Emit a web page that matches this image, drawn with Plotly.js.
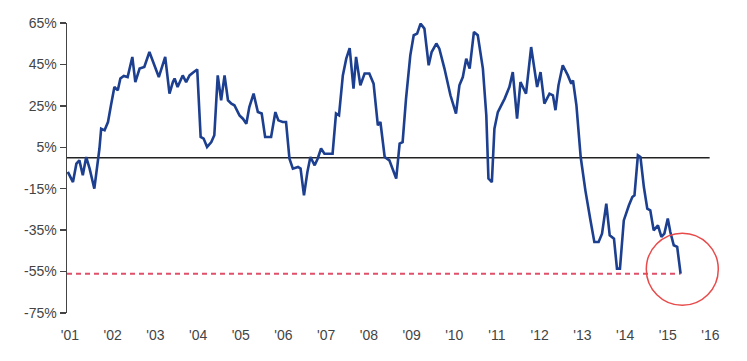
<!DOCTYPE html>
<html>
<head>
<meta charset="utf-8">
<script src="https://cdn.plot.ly/plotly-3.0.1.min.js"></script>
<style>html,body{margin:0;padding:0;background:#fff;}#chart{width:747px;height:361px;}</style>
</head>
<body>
<div id="chart"></div>
<script>
// Time (decimal year) and value (%)
const years = [2000.95,2001.07,2001.15,2001.22,2001.30,2001.38,2001.46,2001.57,2001.69,2001.73,2001.81,2001.89,2001.96,
2002.04,2002.12,2002.18,2002.26,2002.35,2002.46,2002.53,2002.63,2002.74,2002.86,2002.98,
2003.08,2003.23,2003.33,2003.41,2003.45,2003.52,2003.64,2003.72,2003.80,2003.90,2003.98,
2004.06,2004.13,2004.21,2004.31,2004.38,2004.46,2004.54,2004.62,2004.70,2004.78,2004.85,2004.97,
2005.05,2005.13,2005.20,2005.30,2005.40,2005.49,2005.57,2005.71,2005.81,2005.88,2005.98,
2006.06,2006.14,2006.22,2006.34,2006.40,2006.48,2006.56,2006.63,2006.73,2006.80,2006.88,2006.96,
2007.15,2007.23,2007.30,2007.39,2007.47,2007.55,2007.64,2007.70,2007.80,2007.90,
2008.01,2008.11,2008.21,2008.27,2008.37,2008.48,2008.60,2008.64,2008.72,2008.79,2008.87,2008.97,
2009.05,2009.13,2009.21,2009.30,2009.40,2009.47,2009.58,2009.65,2009.77,2009.91,
2010.04,2010.12,2010.20,2010.28,2010.36,2010.46,2010.55,2010.67,2010.75,2010.80,2010.88,2010.94,
2011.02,2011.18,2011.29,2011.37,2011.47,2011.55,2011.68,2011.80,2011.94,
2012.02,2012.11,2012.23,2012.31,2012.37,2012.44,2012.54,2012.66,2012.74,2012.78,2012.86,2012.96,
2013.07,2013.19,2013.28,2013.38,2013.46,2013.56,2013.64,2013.74,2013.81,2013.88,2013.97,
2014.09,2014.17,2014.22,2014.30,2014.36,2014.44,2014.52,2014.59,2014.67,2014.77,2014.85,2014.92,
2015.00,2015.06,2015.14,2015.22,2015.30];
const values = [-6.9,-11.8,-2.9,-1.3,-8.5,0.3,-5.3,-15.0,4.4,14.0,13.2,17.2,25.3,
34.1,32.5,38.2,39.4,38.9,48.6,36.5,43.0,43.8,51.0,44.6,
38.9,48.6,30.9,36.5,38.2,34.1,39.7,36.5,39.7,41.3,42.6,
10.0,9.2,5.1,7.5,10.8,39.7,27.7,39.7,27.7,26.1,25.3,20.4,
18.8,16.4,24.4,30.9,22.0,21.3,10.0,10.0,22.0,18.0,17.2,
17.2,-0.5,-5.3,-4.5,-5.3,-18.2,-6.9,0.3,-3.7,-0.5,4.4,1.9,
1.9,21.3,20.4,39.7,47.8,52.9,33.3,48.6,34.9,40.6,
40.6,35.7,15.6,17.2,0.3,-1.3,-8.5,-10.1,6.8,7.5,28.5,49.4,
59.1,59.9,64.7,62.3,44.6,51.0,55.1,52.6,43.0,30.1,
21.3,34.9,38.9,47.8,43.0,60.7,59.1,43.0,20.4,-10.1,-11.8,14.0,
22.0,28.5,34.1,41.3,18.8,36.5,30.9,53.4,34.1,
41.3,26.1,30.9,30.1,22.9,34.9,44.6,39.7,35.7,37.3,25.3,0.3,
-15.8,-30.3,-40.7,-40.7,-36.7,-22.2,-37.5,-39.1,-53.6,-53.6,-30.3,
-23.0,-19.0,-18.2,1.1,0.3,-14.2,-24.6,-25.4,-35.1,-32.7,-38.3,-36.7,
-29.4,-35.9,-42.3,-43.1,-56.0];
const tickYears = [2001,2002,2003,2004,2005,2006,2007,2008,2009,2010,2011,2012,2013,2014,2015,2016];
const tickLabels = ["'01","'02","'03","'04","'05","'06","'07","'08","'09","'10","'11","'12","'13","'14","'15","'16"];
const yTicks = [-75,-55,-35,-15,5,25,45,65];
const zeroLevel = 0;
const lowLevel = -56;
const zeroLineEnd = 2015.98;
const highlightCenter = [2015.34, -53.9];

const trace = {
  x: years, y: values, type: 'scatter', mode: 'lines',
  line: {color: '#1d3f8f', width: 2.6, shape: 'linear'},
  hoverinfo: 'skip'
};
const xr = [2000.93, 2016.34];
const layout = {
  width: 747, height: 361,
  margin: {l: 67, r: 22, t: 23, b: 48},
  paper_bgcolor: '#ffffff', plot_bgcolor: '#ffffff',
  showlegend: false,
  font: {family: 'Liberation Sans, Arial, sans-serif', size: 14, color: '#444'},
  xaxis: {
    range: xr, tickmode: 'array', tickvals: tickYears, ticktext: tickLabels,
    showgrid: false, zeroline: false, showline: false,
    ticks: 'outside', ticklen: 9, tickcolor: 'rgba(0,0,0,0)',
    tickfont: {size: 14, color: '#444'}, fixedrange: true
  },
  yaxis: {
    range: [-75, 65], tickmode: 'array', tickvals: yTicks,
    ticktext: yTicks.map(v => v + '%'),
    showgrid: false, zeroline: false, showline: true, linecolor: '#444', linewidth: 1.5,
    ticks: 'outside', ticklen: 6, tickcolor: '#444', tickwidth: 1.5,
    tickfont: {size: 14, color: '#444'}, fixedrange: true
  },
  shapes: [
    {type: 'line', xref: 'x', yref: 'y', x0: xr[0], x1: zeroLineEnd, y0: zeroLevel, y1: zeroLevel,
     line: {color: '#222', width: 1.5}, layer: 'below'},
    {type: 'line', xref: 'x', yref: 'y', x0: xr[0], x1: years[years.length-1], y0: lowLevel, y1: lowLevel,
     line: {color: '#e0506a', width: 2, dash: '5px,4px'}, layer: 'below'},
    {type: 'circle', xref: 'x', yref: 'y',
     x0: highlightCenter[0] - 0.843, x1: highlightCenter[0] + 0.843,
     y0: highlightCenter[1] - 17.4, y1: highlightCenter[1] + 17.4,
     line: {color: '#e84a4a', width: 1.5}}
  ]
};
Plotly.newPlot('chart', [trace], layout, {staticPlot: true, displayModeBar: false});
</script>
</body>
</html>
